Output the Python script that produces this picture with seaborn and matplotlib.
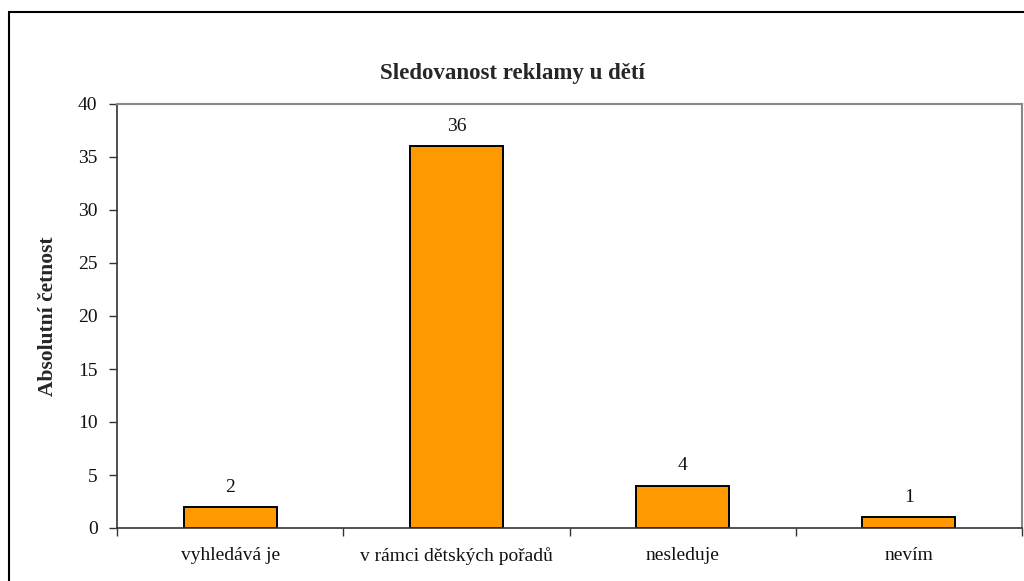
import matplotlib
matplotlib.use("Agg")
import matplotlib.pyplot as plt
import seaborn as sns
import pandas as pd
from matplotlib.patches import Rectangle

categories = ["vyhledává je", "v rámci dětských pořadů", "nesleduje", "nevím"]
counts = [2, 36, 4, 1]
y_ticks = [0, 5, 10, 15, 20, 25, 30, 35, 40]

title = "Sledovanost reklamy u dětí"
y_label = "Absolutní četnost"

sns.set_style("white")
plt.rcParams["font.family"] = ["Liberation Serif", "DejaVu Serif"]

df = pd.DataFrame({"kategorie": categories, "pocet": counts})

fig = plt.figure(figsize=(10.24, 5.81), dpi=100)
ax = fig.add_axes([117 / 1024, 53 / 581, 905 / 1024, 424 / 581])

sns.barplot(data=df, x="kategorie", y="pocet", color="#FF9900", width=0.41,
            edgecolor="black", linewidth=1.4, saturation=1, ax=ax)

ax.set_xlim(-0.5, len(categories) - 0.5)
ax.set_ylim(0, 40)
ax.set_yticks(y_ticks)
ax.tick_params(axis="y", direction="out", length=6, width=1, color="#333333",
               labelsize=14, pad=8, left=True, labelcolor="#111111")

# category ticks sit on the boundaries between the bars
ax.set_xticks([i - 0.5 for i in range(len(categories) + 1)], minor=False)
ax.set_xticklabels([])
ax.set_xticks(range(len(categories)), minor=True)
ax.set_xticklabels(categories, minor=True)
ax.tick_params(axis="x", which="major", direction="out", length=6, width=1,
               color="#333333", bottom=True)
ax.tick_params(axis="x", which="minor", length=0, labelsize=14, pad=14,
               labelcolor="#111111")

ax.set_xlabel("")
ax.set_ylabel(y_label, fontsize=15.5, fontweight="bold", labelpad=14)

for side in ("left", "bottom"):
    ax.spines[side].set_color("#333333")
    ax.spines[side].set_linewidth(1.2)
for side in ("top", "right"):
    ax.spines[side].set_visible(True)
    ax.spines[side].set_color("#888888")
    ax.spines[side].set_linewidth(1.5)

for i, v in enumerate(counts):
    ax.annotate(str(v), (i, v), xytext=(0, 8), textcoords="offset points",
                ha="center", va="bottom", fontsize=14, color="#111111")

fig.text(512 / 1024, 1 - 73 / 581, title, ha="center", va="center",
         fontsize=16.5, fontweight="bold")

# outer chart frame
fig.patches.append(Rectangle((9 / 1024, -0.05), 1.2, 1 - 12 / 581 + 0.05,
                             transform=fig.transFigure, fill=False,
                             edgecolor="black", linewidth=1.5, clip_on=False))

fig.savefig("out.png", dpi=100)
